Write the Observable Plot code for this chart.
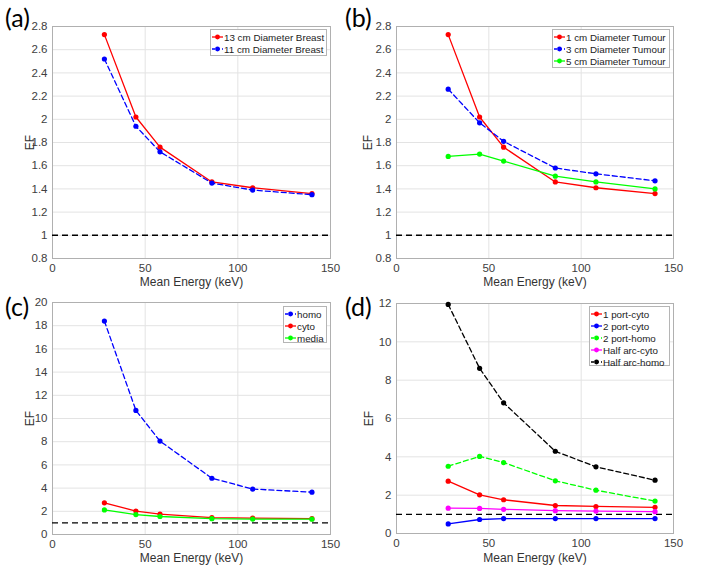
<!DOCTYPE html>
<html>
<head>
<meta charset="utf-8">
<script src="https://cdn.jsdelivr.net/npm/d3@7"></script>
<script src="https://cdn.jsdelivr.net/npm/@observablehq/plot@0.6"></script>
<style>
  html, body { margin: 0; padding: 0; background: #fff; }
  #root { position: relative; width: 713px; height: 571px; background: #fff; overflow: hidden; }
  .panel { position: absolute; }
  .tag { position: absolute; font-family: Lato, "Open Sans", sans-serif; font-size: 25px; color: #000; line-height: 1; }
  .legend { position: absolute; background: #fff; border: 1px solid #b5b5b5; box-sizing: border-box;
            font-family: "Liberation Sans", Arial, sans-serif; font-size: 9.8px; color: #222; padding: 1px 0 0 0; }
  .legend .row { display: flex; align-items: center; height: 12px; white-space: nowrap; }
  .legend svg { flex: none; }
</style>
</head>
<body>
<div id="root"></div>
<script>
// ---- data ----
const energy = [28, 45, 58, 86, 108, 140];
const xTicks = [0, 50, 100, 150];

// (a)
const breast13 = [2.73, 2.02, 1.76, 1.46, 1.41, 1.36];
const breast11 = [2.52, 1.94, 1.72, 1.45, 1.39, 1.35];
// (b)
const tumour1 = [2.73, 2.02, 1.76, 1.46, 1.41, 1.36];
const tumour3 = [2.26, 1.97, 1.81, 1.58, 1.53, 1.47];
const tumour5 = [1.68, 1.70, 1.64, 1.51, 1.46, 1.40];
// (c)
const homo = [18.4, 10.7, 8.05, 4.85, 3.92, 3.65];
const cyto = [2.73, 2.02, 1.76, 1.46, 1.41, 1.36];
const media = [2.12, 1.72, 1.55, 1.36, 1.33, 1.32];
// (d)
const port1Cyto = [2.73, 2.02, 1.76, 1.46, 1.41, 1.36];
const port2Cyto = [0.50, 0.73, 0.78, 0.78, 0.78, 0.78];
const port2Homo = [3.51, 4.02, 3.70, 2.75, 2.26, 1.69];
const halfArcCyto = [1.32, 1.31, 1.26, 1.19, 1.17, 1.14];
const halfArcHomo = [11.95, 8.62, 6.82, 4.29, 3.48, 2.78];

const yTicksAB = [0.8, 1, 1.2, 1.4, 1.6, 1.8, 2, 2.2, 2.4, 2.6, 2.8];
const yTicksC = [0, 2, 4, 6, 8, 10, 12, 14, 16, 18, 20];
const yTicksD = [0, 2, 4, 6, 8, 10, 12];
const refLine = [1];

const xLabel = "Mean Energy (keV)";
const yLabel = "EF";

// ---- panels ----
const panels = [
  { tag: "(a)", left: 0, top: 0, width: 356, height: 290,
    margin: [26, 26, 32, 52], yDomain: [0.8, 2.8], yTicks: yTicksAB, efDx: -22, xDy: 24,
    tagPos: [5, 5],
    legend: { left: 210, top: 29, width: 117, height: 27 },
    series: [
      { name: "13 cm Diameter Breast", values: breast13, color: "#ff0000", dash: null },
      { name: "11 cm Diameter Breast", values: breast11, color: "#0000ff", dash: "5,3" }
    ] },
  { tag: "(b)", left: 356, top: 0, width: 357, height: 290,
    margin: [26, 40, 32, 40], yDomain: [0.8, 2.8], yTicks: yTicksAB, efDx: -28, xDy: 24,
    tagPos: [345, 5],
    legend: { left: 552, top: 29, width: 118, height: 39 },
    series: [
      { name: "1 cm Diameter Tumour", values: tumour1, color: "#ff0000", dash: null },
      { name: "3 cm Diameter Tumour", values: tumour3, color: "#0000ff", dash: "5,3" },
      { name: "5 cm Diameter Tumour", values: tumour5, color: "#00ff00", dash: null }
    ] },
  { tag: "(c)", left: 0, top: 285, width: 356, height: 286,
    margin: [17, 26, 37, 52], yDomain: [0, 20], yTicks: yTicksC, efDx: -22, xDy: 24,
    tagPos: [5, 294],
    legend: { left: 283, top: 306, width: 44, height: 37 },
    series: [
      { name: "homo", values: homo, color: "#0000ff", dash: "5,3" },
      { name: "cyto", values: cyto, color: "#ff0000", dash: null },
      { name: "media", values: media, color: "#00ff00", dash: null }
    ] },
  { tag: "(d)", left: 356, top: 285, width: 357, height: 286,
    margin: [18, 40, 38, 40], yDomain: [0, 12], yTicks: yTicksD, efDx: -27, xDy: 25,
    tagPos: [345, 294],
    legend: { left: 589, top: 306, width: 81, height: 60 },
    series: [
      { name: "1 port-cyto", values: port1Cyto, color: "#ff0000", dash: null },
      { name: "2 port-cyto", values: port2Cyto, color: "#0000ff", dash: null },
      { name: "2 port-homo", values: port2Homo, color: "#00ff00", dash: "5,3" },
      { name: "Half arc-cyto", values: halfArcCyto, color: "#ff00ff", dash: null },
      { name: "Half arc-homo", values: halfArcHomo, color: "#000000", dash: "5,3" }
    ] }
];

const root = document.getElementById("root");

for (const p of panels) {
  const [mt, mr, mb, ml] = p.margin;
  const marks = [
    Plot.gridX(xTicks, { stroke: "#e3e3e3", strokeOpacity: 1 }),
    Plot.gridY(p.yTicks, { stroke: "#e3e3e3", strokeOpacity: 1 }),
    Plot.frame({ stroke: "#b0b0b0" }),
    Plot.axisX(xTicks, { tickSize: 0, tickPadding: 5, label: null, tickFormat: d3.format("~g") }),
    Plot.axisY(p.yTicks, { tickSize: 0, tickPadding: 5, label: null, tickFormat: d3.format("~g") }),
    Plot.ruleY(refLine, { stroke: "#000", strokeDasharray: "6,4", strokeWidth: 1.4 }),
    Plot.text([xLabel], { frameAnchor: "bottom", dy: p.xDy, lineAnchor: "middle", fontSize: 12, fill: "#333" }),
    Plot.text([yLabel], { frameAnchor: "left", dx: p.efDx, rotate: -90, lineAnchor: "middle", textAnchor: "middle", fontSize: 12, fill: "#333" })
  ];
  for (const s of p.series) {
    const rows = energy.map((e, i) => ({ x: e, y: s.values[i] }));
    marks.push(Plot.line(rows, { x: "x", y: "y", stroke: s.color, strokeWidth: 1.3, strokeDasharray: s.dash }));
    marks.push(Plot.dot(rows, { x: "x", y: "y", fill: s.color, r: 2.6 }));
  }
  const chart = Plot.plot({
    width: p.width, height: p.height,
    marginTop: mt, marginRight: mr, marginBottom: mb, marginLeft: ml,
    x: { domain: [0, 150] },
    y: { domain: p.yDomain },
    style: { fontFamily: "'Liberation Sans', Arial, sans-serif", fontSize: "11.5px", color: "#404040", background: "transparent" },
    marks
  });
  const wrap = document.createElement("div");
  wrap.className = "panel";
  wrap.style.left = p.left + "px";
  wrap.style.top = p.top + "px";
  wrap.appendChild(chart);
  root.appendChild(wrap);

  // legend
  const lg = document.createElement("div");
  lg.className = "legend";
  Object.assign(lg.style, { left: p.legend.left + "px", top: p.legend.top + "px", width: p.legend.width + "px", height: p.legend.height + "px" });
  for (const s of p.series) {
    const row = document.createElement("div");
    row.className = "row";
    const ns = "http://www.w3.org/2000/svg";
    const svg = document.createElementNS(ns, "svg");
    svg.setAttribute("width", 13); svg.setAttribute("height", 8);
    const ln = document.createElementNS(ns, "line");
    ln.setAttribute("x1", 1); ln.setAttribute("x2", 12); ln.setAttribute("y1", 4); ln.setAttribute("y2", 4);
    ln.setAttribute("stroke", s.color); ln.setAttribute("stroke-width", 1.3);
    if (s.dash) ln.setAttribute("stroke-dasharray", "3,2");
    const c = document.createElementNS(ns, "circle");
    c.setAttribute("cx", 6.5); c.setAttribute("cy", 4); c.setAttribute("r", 2.4); c.setAttribute("fill", s.color);
    svg.appendChild(ln); svg.appendChild(c);
    const t = document.createElement("span");
    t.textContent = s.name;
    row.appendChild(svg); row.appendChild(t);
    lg.appendChild(row);
  }
  root.appendChild(lg);

  const tag = document.createElement("div");
  tag.className = "tag";
  tag.textContent = p.tag;
  tag.style.left = p.tagPos[0] + "px";
  tag.style.top = p.tagPos[1] + "px";
  root.appendChild(tag);
}
</script>
</body>
</html>
